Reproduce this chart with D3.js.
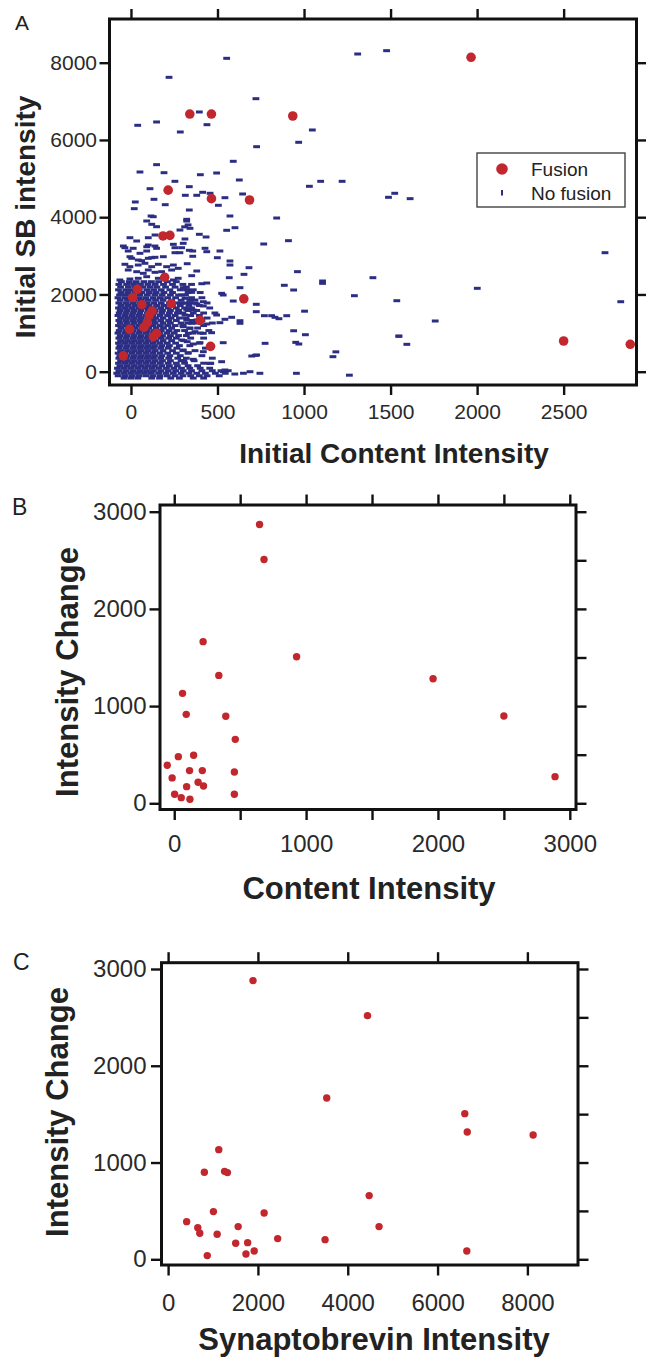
<!DOCTYPE html>
<html>
<head>
<meta charset="utf-8">
<script src="https://cdn.jsdelivr.net/npm/d3@7"></script>
<style>
  body { margin: 0; background: #fff; }
  svg text { font-family: "Liberation Sans", Arial, Helvetica, sans-serif; }
</style>
</head>
<body>
<svg id="chart" width="646" height="1358"></svg>
<script>
// ---- Panel A data: initial content intensity vs initial SB intensity ----
const fusionA = [
  [1965,8140],[340,6670],[465,6670],[935,6620],[215,4700],[465,4480],[685,4445],
  [185,3515],[225,3530],[195,2444],[37,2133],[10,1920],[63,1735],[233,1760],
  [652,1886],[122,1571],[106,1468],[94,1269],[75,1149],[399,1330],[-8,1097],
  [129,906],[148,994],[460,657],[-44,410],[2500,795],[2885,710]
];

// scattered "no fusion" vesicles (outside the dense cluster)
const noFusionSparse = [
  [553,8113],[1310,8225],[1477,8311],[220,7621],[722,7068],[395,6724],[39,6379],[148,6465],
  [439,6395],[285,6206],[1048,6258],[969,5939],[726,5825],[591,5447],[148,5360],[52,5170],
  [191,5152],[401,5100],[495,5144],[254,4929],[626,4963],[1096,4929],[1220,4929],[1031,4800],
  [110,4738],[337,4790],[133,4463],[314,4567],[380,4567],[414,4645],[457,4619],[645,4601],
  [543,4505],[25,4394],[19,4221],[198,4324],[505,4308],[337,4186],[572,4031],[116,4031],
  [842,3979],[322,3945],[1488,4515],[1524,4619],[1613,4480],
  [2739,3081],[2001,2159],[2830,1812],[1536,1838],[1758,1313],[1548,924],[1594,709],
  [1262,-90],[1167,389],[1184,514],[1398,2434],[1291,1968],[1107,2348],[1107,2288],
  [962,2590],[910,3392],[767,3306],[886,2237],[940,2115],[1003,1567],[940,1060],[1008,958],
  [952,760],[970,717],[956,-41],[745,-41],[688,0],[775,735],[720,424],[698,406],[726,432],
  [724,1745],[724,1554],[771,1450],[813,1450],[832,1408],[855,1372],[900,1450],[1548,916],
  [322,3900],[330,3800],[341,3712],[310,3750],[553,3661],[601,3728],[312,3436],[395,3557],
  [434,3488],[293,3210],[337,3143],[357,3125],[428,3195],[438,3107],[514,3125],[357,2988],
  [499,2951],[572,2866],[572,2762],[325,2796],[380,2607],[351,2486],[682,2693],[653,2521],
  [568,2434],[409,2278],[438,2296],[630,2175],[302,2175],[322,2123],[351,2055],[524,2029],
  [533,1986],[591,1830],[370,1856],[418,1812],[293,1986],[312,1900],
  [293,1771],[341,1787],[380,1753],[418,1701],[322,1616],[360,1597],[495,1468],[543,1357],
  [582,1408],[630,1320],[630,1253],[514,1269],[312,1468],[322,1338],[351,1253],[380,1338],
  [438,1235],[302,1165],[341,1123],[370,1036],[331,994],[418,994],[466,1010],[293,821],
  [325,777],[360,717],[399,751],[533,751],[302,562],[331,492],[418,518],[306,285],[360,321],
  [461,217],[524,259],[457,216],[543,44],[562,26],[533,0],[600,-60],[650,-40]
];

// upper, looser part of the cluster
const noFusionUpper = [
  [129,4013],[91,3902],[120,3816],[148,3754],[-6,3469],[33,3384],[100,3469],[139,3539],
  [283,3668],[-35,3210],[-16,3125],[91,3236],[148,3195],[91,3125],[245,3298],[254,3210],
  [302,3324],[4,2936],[42,2892],[120,2951],[187,2977],[-35,2781],[-6,2719],[42,2762],
  [81,2807],[120,2719],[158,2781],[206,2719],[245,2762],[-16,2633],[33,2589],[71,2547],
  [100,2633],[139,2573],[177,2589],[235,2633],[273,2676],[-64,2374],[-6,2400],[42,2418],
  [91,2460],[158,2418],[245,2374],[273,2418],[-44,3254],[13,3195],[52,3065],[100,3280],
  [139,3254],[-6,2977],[62,2874],[100,2936],[139,2962],[254,3081],[283,3081]
];

// dense core of the cluster, listed row by row: [SB intensity, [content intensities]]
const noFusionCoreRows = [
  [2330, [-55,-10,30,75,118,160,210,262]],
  [2260, [-70,-25,15,55,98,140,188,240,300,350]],
  [2190, [-60,-15,25,68,110,150,200,255,320]],
  [2120, [-72,-30,8,48,92,132,175,225,285,360]],
  [2050, [-58,-18,22,62,105,145,190,240,330,400]],
  [1985, [-66,-28,12,52,95,138,180,228,275,315]],
  [1915, [-75,-35,5,45,85,128,170,212,258,350,410]],
  [1850, [-62,-20,20,60,100,142,185,235,290,340]],
  [1780, [-70,-30,10,50,92,132,175,222,268,305,370,440]],
  [1715, [-58,-18,22,64,105,148,190,240,285,335,395]],
  [1650, [-72,-32,8,48,88,130,172,215,262,310,350,455]],
  [1585, [-62,-22,18,58,100,140,182,228,275,330,380]],
  [1520, [-68,-28,12,52,95,135,178,222,268,300,360,420,485]],
  [1455, [-75,-35,5,45,85,125,168,212,255,345,395]],
  [1390, [-60,-20,20,60,100,142,185,232,280,318,440]],
  [1325, [-70,-30,10,50,90,130,172,218,262,355,410]],
  [1260, [-62,-22,18,58,98,140,185,228,290,330,380,470]],
  [1195, [-72,-32,8,48,88,128,170,212,255,300,420]],
  [1130, [-58,-18,22,62,102,145,188,235,340,385]],
  [1065, [-68,-28,12,52,92,132,175,220,265,310,450]],
  [1000, [-75,-35,5,45,85,125,165,208,250,358,400]],
  [935,  [-62,-22,18,58,98,138,182,228,275,320]],
  [870,  [-70,-30,10,50,90,132,175,218,262,345,420]],
  [805,  [-60,-20,20,60,100,142,185,235,305]],
  [740,  [-72,-32,8,48,88,128,168,210,258,395]],
  [675,  [-64,-24,16,56,96,136,178,222,280,340]],
  [610,  [-70,-30,10,50,90,130,172,215,265,430]],
  [545,  [-60,-20,20,60,100,140,185,240,300,370]],
  [480,  [-74,-34,6,46,86,126,168,212,262,330]],
  [415,  [-64,-24,16,56,96,136,178,225,285,410]],
  [350,  [-70,-30,10,50,90,130,172,218,270,320,470]],
  [285,  [-60,-20,20,60,100,140,182,228,290,365]],
  [220,  [-72,-32,8,48,88,128,170,215,262,310,420]],
  [155,  [-64,-24,16,56,96,136,178,222,268,330,385]],
  [90,   [-78,-38,2,42,82,122,162,205,248,292,340,400,455]],
  [25,   [-70,-30,10,50,90,130,172,215,258,302,350,410,470,520]],
  [-40,  [-82,-42,-2,38,78,118,160,202,245,290,335,380,430,488,545]],
  [-105, [-74,-34,6,46,86,126,168,210,255,300,345,395,440,510]],
  [-165, [-40,0,40,120,165,230,280,360,420]]
];

// ---- Panel B data: content intensity vs intensity change ----
const contentB = [647,681,219,928,338,1963,63,91,391,2500,463,147,31,-53,116,213,-16,456,2888,94,181,222,3,456,53,119];
const changeB  = [2869,2509,1663,1508,1316,1282,1131,915,895,898,658,494,480,391,336,336,261,322,274,171,216,178,93,93,58,41];

// ---- Panel C data: synaptobrevin intensity vs intensity change ----
const sbC     = [1890,4440,3532,6606,6661,8128,1128,807,1257,1321,4477,1009,2138,413,661,1560,4697,706,1092,2440,3495,1505,1771,1917,6651,872,1734];
const changeC = [2880,2518,1667,1505,1316,1285,1133,899,909,896,658,493,479,389,327,338,338,269,258,214,203,165,172,86,86,38,55];

// tick values
const ticksA_x = [0,500,1000,1500,2000,2500];
const ticksA_y = [0,2000,4000,6000,8000];
const ticksB_x = [0,500,1000,1500,2000,2500,3000];
const labelsB_x = [0,1000,2000,3000];
const ticksBC_y = [0,1000,2000,3000];
const ticksBC_yRight = [0,500,1000,1500,2000,2500,3000];
const ticksC_x = [0,2000,4000,6000,8000];

const RED = "#c1272d";
const BLUE = "#2b2e83";
const svg = d3.select("#chart");

function drawPanel(p) {
  const x = d3.scaleLinear().domain(p.xDomain).range([p.box.l, p.box.r]);
  const y = d3.scaleLinear().domain(p.yDomain).range([p.box.b, p.box.t]);
  const g = svg.append("g");

  p.marks(g, x, y);

  // plain numbers, no thousands separator; unlabeled minor ticks get ""
  const fmt = labels => d => labels.includes(d) ? String(d) : "";

  const axes = [
    g.append("g").attr("transform", `translate(0,${p.box.b})`)
      .call(d3.axisBottom(x).tickValues(p.xTicks).tickSize(p.tick).tickPadding(p.xPad)
        .tickFormat(fmt(p.xLabels))),
    g.append("g").attr("transform", `translate(0,${p.box.t})`)
      .call(d3.axisTop(x).tickValues(p.xTicks).tickSize(p.tick).tickFormat("")),
    g.append("g").attr("transform", `translate(${p.box.l},0)`)
      .call(d3.axisLeft(y).tickValues(p.yTicks).tickSize(p.tick).tickPadding(p.yPad)
        .tickFormat(fmt(p.yTicks))),
    g.append("g").attr("transform", `translate(${p.box.r},0)`)
      .call(d3.axisRight(y).tickValues(p.yRightTicks).tickSize(p.tick).tickFormat(""))
  ];
  axes.forEach(a => {
    a.attr("font-family", null).attr("font-size", null);
    a.select(".domain").remove();
    a.selectAll(".tick line").attr("stroke", "#111").attr("stroke-width", 2.4);
    a.selectAll(".tick text").attr("fill", "#2a2a2a").style("font-size", p.tickFont + "px");
  });

  g.append("rect")
    .attr("x", p.box.l).attr("y", p.box.t)
    .attr("width", p.box.r - p.box.l).attr("height", p.box.b - p.box.t)
    .attr("fill", "none").attr("stroke", "#111").attr("stroke-width", 3);

  // panel letter
  g.append("text").attr("x", p.letterPos[0]).attr("y", p.letterPos[1])
    .attr("fill", "#222").style("font-size", p.letterFont + "px").text(p.letter);

  // axis titles
  g.append("text").attr("x", p.xTitlePos[0]).attr("y", p.xTitlePos[1])
    .attr("text-anchor", "middle").attr("font-weight", "bold").attr("fill", "#222")
    .style("font-size", p.titleFont + "px").text(p.xTitle);
  g.append("text")
    .attr("transform", `translate(${p.yTitlePos[0]},${p.yTitlePos[1]}) rotate(-90)`)
    .attr("text-anchor", "middle").attr("font-weight", "bold").attr("fill", "#222")
    .style("font-size", p.titleFont + "px").text(p.yTitle);
  return g;
}

// ---------- Panel A ----------
const noFusionAll = noFusionSparse.concat(noFusionUpper,
  noFusionCoreRows.flatMap(([sb, xs]) => xs.map(c => [c, sb])));

const gA = drawPanel({
  box: {l: 109.5, r: 636.5, t: 19, b: 385},
  xDomain: [-124, 2921], yDomain: [-344, 9131],
  xTicks: ticksA_x, xLabels: ticksA_x, yTicks: ticksA_y, yRightTicks: ticksA_y,
  tick: 10, xPad: 9, yPad: 2.5, tickFont: 21,
  letter: "A", letterPos: [15, 30], letterFont: 21,
  xTitle: "Initial Content Intensity", xTitlePos: [394, 463],
  yTitle: "Initial SB intensity", yTitlePos: [35, 217], titleFont: 28,
  marks: (g, x, y) => {
    g.selectAll("rect.nf").data(noFusionAll).enter().append("rect")
      .attr("class", "nf")
      .attr("x", d => x(d[0]) - 3.4).attr("y", d => y(d[1]) - 1.5)
      .attr("width", 6.8).attr("height", 3).attr("fill", BLUE);
    g.selectAll("circle.fu").data(fusionA).enter().append("circle")
      .attr("class", "fu")
      .attr("cx", d => x(d[0])).attr("cy", d => y(d[1])).attr("r", 4.8).attr("fill", RED);
  }
});

// legend for panel A
const leg = gA.append("g");
leg.append("rect").attr("x", 477).attr("y", 153).attr("width", 148).attr("height", 54)
  .attr("fill", "#fff").attr("stroke", "#444").attr("stroke-width", 1.4);
leg.append("circle").attr("cx", 502).attr("cy", 169).attr("r", 5.8).attr("fill", RED);
leg.append("rect").attr("x", 501).attr("y", 190).attr("width", 2).attr("height", 5.5).attr("fill", BLUE);
leg.append("text").attr("x", 531).attr("y", 175.5).attr("fill", "#222").style("font-size", "19px").text("Fusion");
leg.append("text").attr("x", 531).attr("y", 199.5).attr("fill", "#222").style("font-size", "19px").text("No fusion");

// ---------- Panel B ----------
drawPanel({
  box: {l: 160, r: 576, t: 505, b: 809.5},
  xDomain: [-108, 3047], yDomain: [-64, 3069],
  xTicks: ticksB_x, xLabels: labelsB_x, yTicks: ticksBC_y, yRightTicks: ticksBC_yRight,
  tick: 10.5, xPad: 15, yPad: 3, tickFont: 24,
  letter: "B", letterPos: [12, 515], letterFont: 23,
  xTitle: "Content Intensity", xTitlePos: [369, 899],
  yTitle: "Intensity Change", yTitlePos: [78, 672], titleFont: 31,
  marks: (g, x, y) => {
    g.selectAll("circle").data(contentB).enter().append("circle")
      .attr("cx", d => x(d)).attr("cy", (d, i) => y(changeB[i])).attr("r", 3.7).attr("fill", RED);
  }
});

// ---------- Panel C ----------
drawPanel({
  box: {l: 161.5, r: 578, t: 962.7, b: 1265},
  xDomain: [-147, 9127], yDomain: [-59, 3065],
  xTicks: ticksC_x, xLabels: ticksC_x, yTicks: ticksBC_y, yRightTicks: ticksBC_yRight,
  tick: 10.5, xPad: 18.5, yPad: 4.5, tickFont: 24,
  letter: "C", letterPos: [13, 970], letterFont: 23,
  xTitle: "Synaptobrevin Intensity", xTitlePos: [374, 1350],
  yTitle: "Intensity Change", yTitlePos: [68, 1112], titleFont: 31,
  marks: (g, x, y) => {
    g.selectAll("circle").data(sbC).enter().append("circle")
      .attr("cx", d => x(d)).attr("cy", (d, i) => y(changeC[i])).attr("r", 3.7).attr("fill", RED);
  }
});
</script>
</body>
</html>
